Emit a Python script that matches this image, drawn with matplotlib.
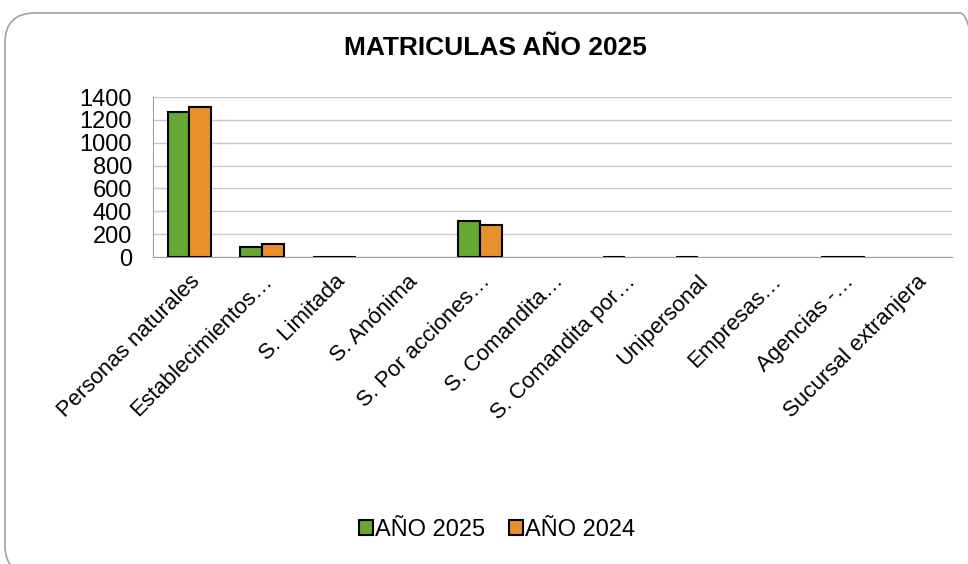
import matplotlib.pyplot as plt
import numpy as np
from matplotlib.patches import FancyBboxPatch

plt.rcParams['font.family'] = ['Liberation Sans', 'DejaVu Sans']

categorias = ['Personas naturales', 'Establecimientos…', 'S. Limitada', 'S. Anónima',
              'S. Por acciones…', 'S. Comandita…', 'S. Comandita por…', 'Unipersonal',
              'Empresas…', 'Agencias -…', 'Sucursal extranjera']
anio_2025 = [1270, 88, 1, 0, 312, 0, 1, 1, 0, 2, 0]
anio_2024 = [1312, 110, 1, 0, 280, 0, 0, 0, 0, 4, 0]

fig = plt.figure(figsize=(9.68, 5.64), dpi=100)
ax = fig.add_axes([153 / 968, 1 - 257 / 564, 799 / 968, 160 / 564])

x = np.arange(len(categorias))
w = 0.3
for vals, off, col, lab in [(anio_2025, -w / 2, '#66a832', 'AÑO 2025'),
                            (anio_2024, w / 2, '#e9902e', 'AÑO 2024')]:
    edges = ['black' if v > 0 else 'none' for v in vals]
    ax.bar(x + off, vals, w, color=col, edgecolor=edges, linewidth=1.5, label=lab, zorder=3)

ax.set_xlim(-0.5, len(categorias) - 0.5)
ax.set_ylim(0, 1400)
ax.set_yticks(range(0, 1401, 200))
ax.yaxis.grid(True, color='#c8c8c8', linewidth=1, zorder=0)
ax.set_xticks(x)
ax.set_xticklabels(categorias, rotation=45, ha='right', rotation_mode='anchor')
ax.tick_params(axis='y', length=0, labelsize=17, pad=15)
ax.tick_params(axis='x', length=0, labelsize=16, pad=10)
for s in ['top', 'right']:
    ax.spines[s].set_visible(False)
ax.spines['left'].set_color('#a0a0a0')
ax.spines['bottom'].set_color('#a0a0a0')

fig.suptitle('MATRICULAS AÑO 2025', x=495 / 968, y=1 - 48 / 564, va='center',
             fontsize=19, fontweight='bold')

leg = fig.legend(loc='center', bbox_to_anchor=(497 / 968, 1 - 530 / 564), ncol=2, frameon=False,
                 fontsize=17, handlelength=0.6, handleheight=0.6, handletextpad=0.1,
                 columnspacing=1.0)

border = FancyBboxPatch((0.05, -0.11), 9.85, 5.62, boxstyle='round,pad=0,rounding_size=0.3',
                        transform=fig.dpi_scale_trans, fill=False, edgecolor='#a0a0a0',
                        linewidth=1.2)
fig.patches.append(border)

fig.savefig('out.png', dpi=100)
